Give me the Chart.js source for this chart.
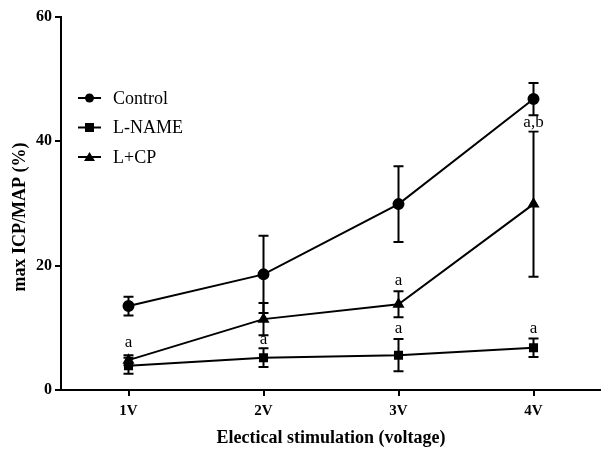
<!DOCTYPE html>
<html lang="en">
<head>
    <meta charset="UTF-8" />
    <title>max ICP/MAP</title>
    <script src="https://cdn.jsdelivr.net/npm/chart.js"></script>
    <style>
        html, body { margin: 0; padding: 0; background: #fff; }
        #wrap { width: 601px; height: 450px; }
    </style>
</head>
<body>
<div id="wrap"><canvas id="chart" width="601" height="450"></canvas></div>

<script>
    const voltages = ['1V', '2V', '3V', '4V'];

    const controlMean = [13.5, 18.6, 29.9, 46.8];
    const controlErr  = [1.5, 6.2, 6.1, 2.6];
    const lnameMean   = [3.9, 5.2, 5.6, 6.8];
    const lnameErr    = [1.3, 1.5, 2.6, 1.5];
    const lcpMean     = [4.8, 11.4, 13.8, 29.9];
    const lcpErr      = [0.8, 2.6, 2.1, 11.7];

    const yTicks = [0, 20, 40, 60];

    // significance letters: [category index, value where text sits, text]
    const marks = [
        [0, 6.2, 'a'],
        [1, 6.8, 'a'],
        [2, 16.2, 'a'],
        [2, 8.5, 'a'],
        [3, 8.6, 'a'],
        [3, 41.6, 'a,b']
    ];

    const serif = '"Liberation Serif", "Times New Roman", serif';

    const errorBars = {
        id: 'errorBars',
        afterDatasetsDraw(chart) {
            const ctx = chart.ctx;
            const x = chart.scales.x, y = chart.scales.y;
            ctx.save();
            ctx.strokeStyle = '#000';
            ctx.lineWidth = 2;
            chart.data.datasets.forEach(ds => {
                ds.data.forEach((v, i) => {
                    const px = x.getPixelForValue(i);
                    const top = y.getPixelForValue(v + ds.err[i]);
                    const bot = y.getPixelForValue(v - ds.err[i]);
                    ctx.beginPath();
                    ctx.moveTo(px, top); ctx.lineTo(px, bot);
                    ctx.moveTo(px - 5, top); ctx.lineTo(px + 5, top);
                    ctx.moveTo(px - 5, bot); ctx.lineTo(px + 5, bot);
                    ctx.stroke();
                });
            });
            // letters
            ctx.fillStyle = '#000';
            ctx.font = '17px ' + serif;
            ctx.textAlign = 'center';
            ctx.textBaseline = 'bottom';
            marks.forEach(m => {
                const px = x.getPixelForValue(m[0]);
                const py = y.getPixelForValue(m[1]);
                if (m[2].length > 1) {
                    const w = ctx.measureText(m[2]).width;
                    ctx.fillStyle = '#fff';
                    ctx.fillRect(px - w / 2 - 1, py - 14, w + 2, 13);
                    ctx.fillStyle = '#000';
                }
                ctx.fillText(m[2], px, py);
            });
            ctx.restore();
        }
    };

    const legendBox = {
        id: 'legendBox',
        afterDraw(chart) {
            const ctx = chart.ctx;
            ctx.save();
            chart.data.datasets.forEach((ds, i) => {
                const yy = 98 + i * 29.5;
                ctx.strokeStyle = '#000';
                ctx.lineWidth = 2;
                ctx.beginPath();
                ctx.moveTo(78, yy); ctx.lineTo(101, yy);
                ctx.stroke();
                ctx.fillStyle = '#000';
                ctx.beginPath();
                if (ds.pointStyle === 'circle') {
                    ctx.arc(89.5, yy, 4.5, 0, Math.PI * 2);
                } else if (ds.pointStyle === 'rect') {
                    ctx.rect(85, yy - 4.5, 9, 9);
                } else {
                    ctx.moveTo(89.5, yy - 5); ctx.lineTo(95, yy + 4); ctx.lineTo(84, yy + 4);
                    ctx.closePath();
                }
                ctx.fill();
                ctx.font = '18px ' + serif;
                ctx.textBaseline = 'middle';
                ctx.fillText(ds.label, 113, yy + 1);
            });

            // axis titles
            ctx.font = 'bold 18px ' + serif;
            ctx.textAlign = 'center';
            ctx.textBaseline = 'middle';
            ctx.fillText('Electical stimulation (voltage)', 331, 438);
            ctx.translate(20, 217);
            ctx.rotate(-Math.PI / 2);
            ctx.fillText('max ICP/MAP (%)', 0, 0);
            ctx.restore();
        }
    };

    function series(label, data, err, style) {
        return {
            label: label,
            data: data,
            err: err,
            borderColor: '#000',
            backgroundColor: '#000',
            borderWidth: 2,
            pointStyle: style,
            pointRadius: 5,
            pointBackgroundColor: '#000',
            pointBorderColor: '#000',
            tension: 0
        };
    }

    new Chart(document.getElementById('chart'), {
        type: 'line',
        data: {
            labels: voltages,
            datasets: [
                series('Control', controlMean, controlErr, 'circle'),
                series('L-NAME', lnameMean, lnameErr, 'rect'),
                series('L+CP', lcpMean, lcpErr, 'triangle')
            ]
        },
        options: {
            responsive: false,
            animation: false,
            layout: { autoPadding: false, padding: { top: 17, right: 0, left: 0, bottom: 0 } },
            scales: {
                x: {
                    offset: true,
                    afterFit: s => { s.height = 60; },
                    grid: { display: true, drawOnChartArea: false, drawTicks: true, tickLength: 6, color: '#000', lineWidth: 2 },
                    border: { display: true, color: '#000', width: 2 },
                    ticks: { color: '#000', font: { family: serif, size: 15, weight: 'bold' }, padding: 6 }
                },
                y: {
                    min: 0, max: 60,
                    afterBuildTicks: s => { s.ticks = yTicks.map(v => ({ value: v })); },
                    afterFit: s => { s.width = 61; },
                    grid: { display: true, drawOnChartArea: false, drawTicks: true, tickLength: 6, color: '#000', lineWidth: 2 },
                    border: { display: true, color: '#000', width: 2 },
                    ticks: { color: '#000', font: { family: serif, size: 16, weight: 'bold' }, padding: 3 }
                }
            },
            plugins: {
                legend: { display: false },
                tooltip: { enabled: false }
            }
        },
        plugins: [errorBars, legendBox]
    });
</script>
</body>
</html>
